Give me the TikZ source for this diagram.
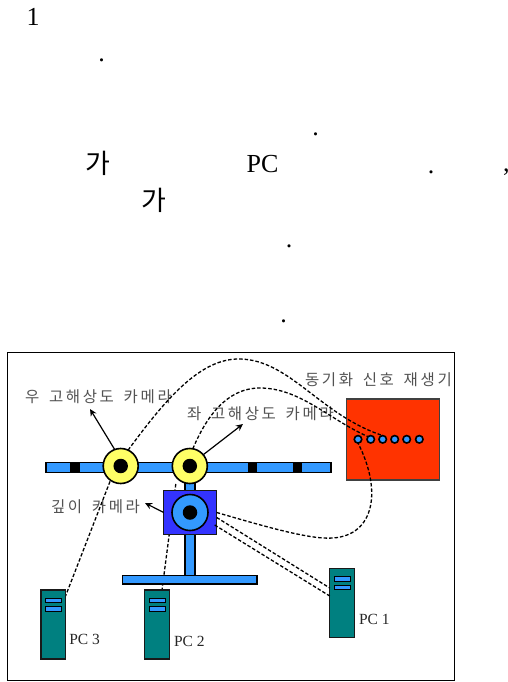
\documentclass[tikz,border=0pt]{standalone}
\usepackage{fontspec}
\setmainfont{Liberation Serif}
\newfontfamily\krfont{Noto Sans CJK KR}
\newfontfamily\krlabel[LetterSpace=17,WordSpace=1.6]{Noto Sans CJK KR}
\usetikzlibrary{arrows.meta,backgrounds}
\definecolor{barblue}{HTML}{3399FF}
\definecolor{boxblue}{HTML}{3333FF}
\definecolor{camyellow}{HTML}{FFFF66}
\definecolor{synred}{HTML}{FF3300}
\definecolor{pcteal}{HTML}{008080}
\tikzset{
  every node/.style={inner sep=0pt,outer sep=0pt},
  bigtext/.style={font=\fontsize{26}{26}\selectfont,text=black},
  krbig/.style={font=\krfont\fontsize{27}{27}\selectfont,text=black},
  krtext/.style={font=\krlabel\fontsize{15.5}{15.5}\selectfont,text=black!68},
  pctext/.style={font=\fontsize{15.5}{15.5}\selectfont,text=black!85},
  barpart/.style={draw=black,line width=1.1pt,fill=barblue,rectangle},
  blackpart/.style={fill=black,rectangle},
  camring/.style={circle,draw=black,line width=1.6pt,fill=camyellow,minimum size=35pt},
  lens/.style={circle,fill=black,minimum size=14.5pt},
  syncdot/.style={circle,draw=black,line width=1.6pt,fill=barblue,minimum size=7.5pt},
  pcbox/.style={rectangle,draw=black!90,line width=1.2pt,fill=pcteal,minimum width=24.5pt,minimum height=69pt},
  pcslot/.style={rectangle,draw=black,line width=1pt,fill=barblue,minimum width=16pt,minimum height=4.5pt},
  wire/.style={dash pattern=on 3.5pt off 2pt,line width=1.3pt,black},
  pointer/.style={-{Stealth[length=7pt,width=6.5pt]},line width=1.2pt,black}
}
\begin{document}
\begin{tikzpicture}[x=1pt,y=-1pt]
\useasboundingbox (0,0) rectangle (508,682);
% body text
\node[bigtext] (t1) at (33,17) {1};
\node[bigtext] (d1) at (101.5,60.5) {.};
\node[bigtext] (d2) at (315.5,134) {.};
\node[krbig] (ga1) at (98,163) {가};
\node[bigtext] (pc) at (262.5,164) {PC};
\node[bigtext] (d3) at (431,172.5) {.};
\node[bigtext,anchor=west] (comma) at (503,172) {,};
\node[krbig] (ga2) at (154,200) {가};
\node[bigtext] (d4) at (289,246.5) {.};
\node[bigtext] (d5) at (283.5,321.5) {.};
% frame and generator
\node[rectangle,draw=black,line width=1.4pt,minimum width=446.5pt,minimum height=328.5pt] (frame) at (231,516.5) {};
\node[rectangle,draw=black!75,line width=1.2pt,fill=synred,minimum width=93pt,minimum height=81pt] (sync) at (393,439.5) {};
% rig
\node[barpart,minimum width=285pt,minimum height=9.5pt] (bar) at (188.5,467.5) {};
\node[blackpart,minimum width=10pt,minimum height=9.5pt] (b1) at (75,467.5) {};
\node[blackpart,minimum width=9.5pt,minimum height=9.5pt] (b2) at (252.7,467.5) {};
\node[blackpart,minimum width=9.5pt,minimum height=9.5pt] (b3) at (297.5,467.5) {};
\node[barpart,minimum width=10pt,minimum height=104pt] (stem) at (190,526) {};
\node[barpart,minimum width=134.5pt,minimum height=8.5pt] (base) at (189.7,579.7) {};
\node[camring] (camR) at (120.7,466) {};
\node[lens] (lensR) at (120.7,466) {};
\node[camring] (camL) at (189.8,466) {};
\node[lens] (lensL) at (189.8,466) {};
\node[rectangle,draw=black!90,line width=1.3pt,fill=boxblue,minimum width=53pt,minimum height=44.5pt] (depth) at (190.2,512.5) {};
\node[circle,draw=black,line width=1.6pt,fill=barblue,minimum size=36pt] (depthring) at (190,512.5) {};
\node[lens] (lensD) at (190,512.5) {};
% sync dots
\foreach \i/\x in {1/358,2/370.7,3/382.7,4/394.7,5/406.7,6/419.3}
  \node[syncdot] (s\i) at (\x,439.3) {};
% PCs
\node[pcbox] (pc3) at (53.3,624.5) {};
\node[pcslot] at (53.3,600.7) {};
\node[pcslot] at (53.3,609) {};
\node[pcbox] (pc2) at (157,624.5) {};
\node[pcslot] at (157,600.7) {};
\node[pcslot] at (157,609) {};
\node[pcbox] (pc1) at (342,603) {};
\node[pcslot] at (342,579) {};
\node[pcslot] at (342,587.5) {};
\node[pctext,anchor=west] (l3) at (69.3,639.5) {PC 3};
\node[pctext,anchor=west] (l2) at (174,641.5) {PC 2};
\node[pctext,anchor=west] (l1) at (359,619.5) {PC 1};
% labels
\node[krtext,anchor=west] (lr) at (25,397) {우 고해상도 카메라};
\node[krtext,anchor=west] (ll) at (187,414) {좌 고해상도 카메라};
\node[krtext,anchor=west] (ld) at (51,507) {깊이 카메라};
\node[krtext,anchor=west] (ls) at (305,379.5) {동기화 신호 재생기};
% pointers
\draw[pointer] (camR.110) -- (90,409);
\draw[pointer] (camL.40) -- (243,424);
\draw[pointer] (depth.west) -- (145,503);
% wires
\draw[wire] (camR.65) .. controls (165,400) and (200,358) .. (240,359)
  .. controls (290,360) and (320,415) .. (s3.north);
\draw[wire] (camL.80) .. controls (205,420) and (225,388) .. (260,388)
  .. controls (300,388) and (330,420) .. (s2.north west);
\draw[wire] (depth.east) .. controls (260,525) and (310,540) .. (333,538)
  .. controls (375,535) and (382,490) .. (s1.south);
\draw[wire] ([yshift=-5pt]depth.east) -- (pc1.west|-0,588);
\draw[wire] ([xshift=-2pt,yshift=-12.5pt]depth.east) -- (pc1.west|-0,596);
\begin{pgfonlayer}{background}
\draw[wire] (camL.center) ++(-14,18) -- ([xshift=5pt]pc2.north);
\draw[wire] ([xshift=-4.7pt]camR.center) -- ([yshift=-6pt]pc3.north east);
\end{pgfonlayer}
\end{tikzpicture}
\end{document}
